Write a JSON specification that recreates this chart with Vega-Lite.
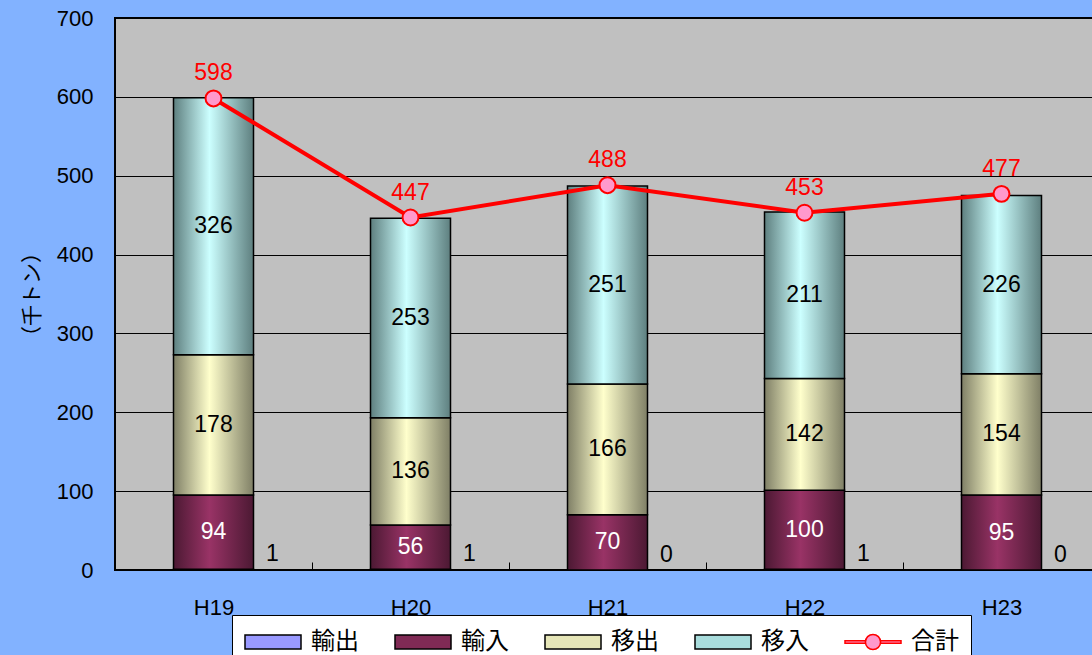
{
  "$schema": "https://vega.github.io/schema/vega-lite/v6.json",
  "width": 985,
  "height": 552,
  "autosize": {"type": "none"},
  "padding": {"left": 115, "top": 18, "right": 0, "bottom": 85},
  "background": "#82B2FF",
  "view": {"fill": "#C0C0C0", "stroke": "#000000", "strokeWidth": 2},
  "config": {
    "view": {"fill": "#C0C0C0", "stroke": "#000000", "strokeWidth": 2},
    "font": "Liberation Sans"
  },
  "datasets": {
    "parts": [
      {"year": "H19", "series": "輸出", "value": 1, "ord": 1},
      {"year": "H19", "series": "輸入", "value": 94, "ord": 2},
      {"year": "H19", "series": "移出", "value": 178, "ord": 3},
      {"year": "H19", "series": "移入", "value": 326, "ord": 4},
      {"year": "H20", "series": "輸出", "value": 1, "ord": 1},
      {"year": "H20", "series": "輸入", "value": 56, "ord": 2},
      {"year": "H20", "series": "移出", "value": 136, "ord": 3},
      {"year": "H20", "series": "移入", "value": 253, "ord": 4},
      {"year": "H21", "series": "輸出", "value": 0, "ord": 1},
      {"year": "H21", "series": "輸入", "value": 70, "ord": 2},
      {"year": "H21", "series": "移出", "value": 166, "ord": 3},
      {"year": "H21", "series": "移入", "value": 251, "ord": 4},
      {"year": "H22", "series": "輸出", "value": 1, "ord": 1},
      {"year": "H22", "series": "輸入", "value": 100, "ord": 2},
      {"year": "H22", "series": "移出", "value": 142, "ord": 3},
      {"year": "H22", "series": "移入", "value": 211, "ord": 4},
      {"year": "H23", "series": "輸出", "value": 0, "ord": 1},
      {"year": "H23", "series": "輸入", "value": 95, "ord": 2},
      {"year": "H23", "series": "移出", "value": 154, "ord": 3},
      {"year": "H23", "series": "移入", "value": 226, "ord": 4}
    ],
    "totals": [
      {"year": "H19", "total": 598},
      {"year": "H20", "total": 447},
      {"year": "H21", "total": 488},
      {"year": "H22", "total": 453},
      {"year": "H23", "total": 477}
    ],
    "legendItems": [
      {"series": "輸出"},
      {"series": "輸入"},
      {"series": "移出"},
      {"series": "移入"},
      {"series": "合計"}
    ]
  },
  "layer": [
    {
      "data": {"name": "parts"},
      "transform": [
        {"stack": "value", "groupby": ["year"], "sort": [{"field": "ord", "order": "ascending"}], "as": ["v0", "v1"]}
      ],
      "layer": [
        {
          "transform": [{"filter": "datum.series === '輸出'"}],
          "mark": {"type": "bar", "width": 80, "stroke": "#000000", "strokeWidth": 1.5, "fill": "#9999FF"},
          "encoding": {
            "x": {
              "field": "year", "type": "nominal", "sort": null,
              "scale": {"paddingInner": 0, "paddingOuter": 0},
              "axis": {
                "title": null, "labelAngle": 0, "labelFont": "Liberation Sans", "labelFontSize": 22,
                "labelColor": "#000000", "labelPadding": 35, "domain": false,
                "ticks": true, "tickSize": -8, "tickBand": "extent", "tickColor": "#000000", "tickWidth": 1
              }
            },
            "y": {
              "field": "v0", "type": "quantitative",
              "scale": {"domain": [0, 700], "nice": false},
              "axis": {
                "values": [0, 100, 200, 300, 400, 500, 600, 700],
                "title": "（千トン）", "titleFont": "Noto Sans CJK JP", "titleFontSize": 21,
                "titleFontWeight": "normal", "titleColor": "#000000", "titlePadding": 14,
                "labelFont": "Liberation Sans", "labelFontSize": 22, "labelColor": "#000000",
                "labelPadding": 22, "ticks": false, "domain": false,
                "grid": true, "gridColor": "#000000", "gridWidth": 1, "gridOpacity": 1
              }
            },
            "y2": {"field": "v1"}
          }
        },
        {
          "transform": [{"filter": "datum.series === '輸入'"}],
          "mark": {"type": "bar", "width": 80, "stroke": "#000000", "strokeWidth": 1.5,
            "fill": {"gradient": "linear", "x1": 0, "y1": 0, "x2": 1, "y2": 0, "stops": [{"offset": 0, "color": "#4C1933"}, {"offset": 0.45, "color": "#993366"}, {"offset": 1, "color": "#4C1933"}]}},
          "encoding": {
            "x": {"field": "year", "type": "nominal", "sort": null},
            "y": {"field": "v0", "type": "quantitative"},
            "y2": {"field": "v1"}
          }
        },
        {
          "transform": [{"filter": "datum.series === '移出'"}],
          "mark": {"type": "bar", "width": 80, "stroke": "#000000", "strokeWidth": 1.5,
            "fill": {"gradient": "linear", "x1": 0, "y1": 0, "x2": 1, "y2": 0, "stops": [{"offset": 0, "color": "#7F7F66"}, {"offset": 0.45, "color": "#FFFFCC"}, {"offset": 1, "color": "#7F7F66"}]}},
          "encoding": {
            "x": {"field": "year", "type": "nominal", "sort": null},
            "y": {"field": "v0", "type": "quantitative"},
            "y2": {"field": "v1"}
          }
        },
        {
          "transform": [{"filter": "datum.series === '移入'"}],
          "mark": {"type": "bar", "width": 80, "stroke": "#000000", "strokeWidth": 1.5,
            "fill": {"gradient": "linear", "x1": 0, "y1": 0, "x2": 1, "y2": 0, "stops": [{"offset": 0, "color": "#5E7F7F"}, {"offset": 0.45, "color": "#CCFFFF"}, {"offset": 1, "color": "#5E7F7F"}]}},
          "encoding": {
            "x": {"field": "year", "type": "nominal", "sort": null},
            "y": {"field": "v0", "type": "quantitative"},
            "y2": {"field": "v1"}
          }
        },
        {
          "transform": [
            {"filter": "datum.series !== '輸出'"},
            {"fold": ["v0", "v1"], "as": ["edge", "pos"]},
            {"aggregate": [{"op": "mean", "field": "pos", "as": "mid"}, {"op": "max", "field": "value", "as": "value"}], "groupby": ["year", "series"]}
          ],
          "mark": {"type": "text", "fontSize": 23, "font": "Liberation Sans", "baseline": "middle"},
          "encoding": {
            "x": {"field": "year", "type": "nominal", "sort": null},
            "y": {"field": "mid", "type": "quantitative"},
            "text": {"field": "value", "type": "quantitative"},
            "color": {"condition": {"test": "datum.series === '輸入'", "value": "#FFFFFF"}, "value": "#000000"}
          }
        },
        {
          "transform": [{"filter": "datum.series === '輸出'"}],
          "mark": {"type": "text", "fontSize": 23, "font": "Liberation Sans", "baseline": "middle", "dx": 59, "dy": -15, "color": "#000000"},
          "encoding": {
            "x": {"field": "year", "type": "nominal", "sort": null},
            "y": {"field": "value", "type": "quantitative"},
            "text": {"field": "value", "type": "quantitative"}
          }
        }
      ]
    },
    {
      "data": {"name": "totals"},
      "mark": {"type": "line", "color": "#FF0000", "strokeWidth": 4},
      "encoding": {
        "x": {"field": "year", "type": "nominal", "sort": null},
        "y": {"field": "total", "type": "quantitative"}
      }
    },
    {
      "data": {"name": "totals"},
      "mark": {"type": "point", "shape": "circle", "filled": true, "fill": "#FF99CC", "stroke": "#FF0000", "strokeWidth": 2, "size": 254, "opacity": 1},
      "encoding": {
        "x": {"field": "year", "type": "nominal", "sort": null},
        "y": {"field": "total", "type": "quantitative"}
      }
    },
    {
      "data": {"name": "totals"},
      "mark": {"type": "text", "color": "#FF0000", "fontSize": 23, "font": "Liberation Sans", "baseline": "middle", "dy": -25},
      "encoding": {
        "x": {"field": "year", "type": "nominal", "sort": null},
        "y": {"field": "total", "type": "quantitative"},
        "text": {"field": "total", "type": "quantitative"}
      }
    },
    {
      "data": {"name": "legendItems"},
      "mark": {"type": "point", "filled": true, "opacity": 0},
      "encoding": {
        "fill": {
          "field": "series", "type": "nominal",
          "scale": {"domain": ["輸出", "輸入", "移出", "移入", "合計"], "range": ["#9999FF", "#802A55", "#E6E6B8", "#A8DCDC", "#FF99CC"]},
          "legend": {
            "orient": "none", "legendX": 117, "legendY": 597, "direction": "horizontal", "columns": 5,
            "title": null, "fillColor": "#FFFFFF", "strokeColor": "#000000", "padding": 12,
            "columnPadding": 33, "labelFont": "Noto Sans CJK JP", "labelFontSize": 24, "labelColor": "#000000",
            "labelOffset": 37, "symbolSize": 784, "symbolStrokeWidth": 1.5, "symbolOpacity": 1, "labelLimit": 120,
            "encode": {
              "symbols": {
                "update": {
                  "fill": [
                    {"test": "datum.value === '輸入'", "value": {"gradient": "linear", "x1": 0, "y1": 0, "x2": 1, "y2": 0, "stops": [{"offset": 0, "color": "#4C1933"}, {"offset": 0.45, "color": "#993366"}, {"offset": 1, "color": "#4C1933"}]}},
                    {"test": "datum.value === '移出'", "value": {"gradient": "linear", "x1": 0, "y1": 0, "x2": 1, "y2": 0, "stops": [{"offset": 0, "color": "#7F7F66"}, {"offset": 0.45, "color": "#FFFFCC"}, {"offset": 1, "color": "#7F7F66"}]}},
                    {"test": "datum.value === '移入'", "value": {"gradient": "linear", "x1": 0, "y1": 0, "x2": 1, "y2": 0, "stops": [{"offset": 0, "color": "#5E7F7F"}, {"offset": 0.45, "color": "#CCFFFF"}, {"offset": 1, "color": "#5E7F7F"}]}},
                    {"test": "datum.value === '輸出'", "value": "#9999FF"},
                    {"value": "#FF99CC"}
                  ]
                }
              }
            }
          }
        },
        "shape": {
          "field": "series", "type": "nominal",
          "scale": {
            "domain": ["輸出", "輸入", "移出", "移入", "合計"],
            "range": [
              "M-1,-0.5H3V0.5H-1Z",
              "M-1,-0.5H3V0.5H-1Z",
              "M-1,-0.5H3V0.5H-1Z",
              "M-1,-0.5H3V0.5H-1Z",
              "M-1,-0.09H0.46V0.09H-1Z M1.54,-0.09H3V0.09H1.54Z M1.54,0A0.54,0.54 0 1 1 0.46,0A0.54,0.54 0 1 1 1.54,0Z"
            ]
          }
        },
        "stroke": {
          "field": "series", "type": "nominal",
          "scale": {
            "domain": ["輸出", "輸入", "移出", "移入", "合計"],
            "range": ["#000000", "#000000", "#000000", "#000000", "#FF0000"]
          }
        }
      }
    }
  ]
}
